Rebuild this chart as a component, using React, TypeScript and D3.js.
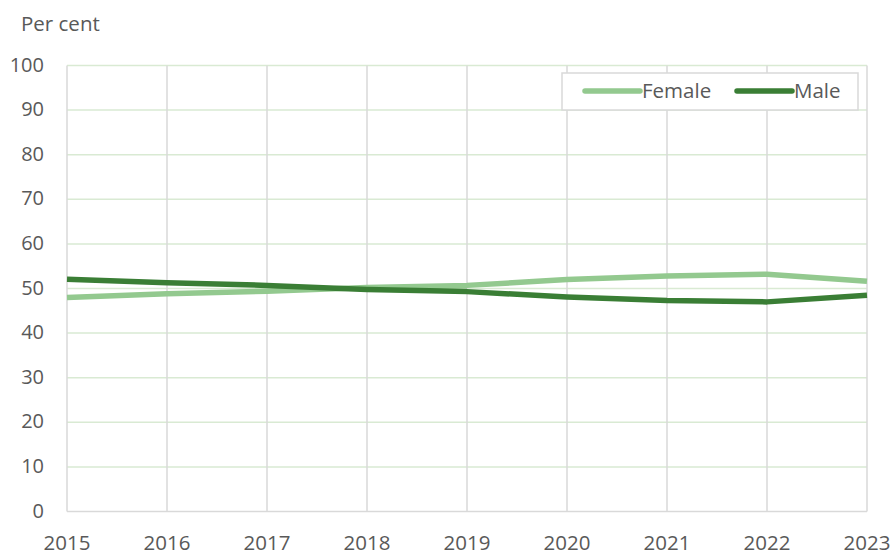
import { useEffect, useRef } from 'react';
import * as d3 from 'd3';

const years = [2015, 2016, 2017, 2018, 2019, 2020, 2021, 2022, 2023];
const female = [48.0, 48.8, 49.4, 50.2, 50.7, 52.0, 52.8, 53.2, 51.6];
const male = [52.1, 51.3, 50.7, 49.8, 49.3, 48.1, 47.3, 47.0, 48.5];
const yTicks = [0, 10, 20, 30, 40, 50, 60, 70, 80, 90, 100];

const SERIES = [
  { name: 'Female', color: '#93c98f', values: female },
  { name: 'Male', color: '#3a7e35', values: male },
];

export default function App() {
  const svgRef = useRef<SVGSVGElement>(null);

  useEffect(() => {
    if (!svgRef.current) return;
    const W = 892, H = 552;
    const M = { top: 65.5, right: 25, bottom: 40.5, left: 67 };
    const font = '"Open Sans", sans-serif';
    const textColor = '#595959';

    const svg = d3.select(svgRef.current).attr('width', W).attr('height', H);
    svg.selectAll('*').remove();

    const x = d3.scaleLinear().domain([2015, 2023]).range([M.left, W - M.right]);
    const y = d3.scaleLinear().domain([0, 100]).range([H - M.bottom, M.top]);

    // Horizontal grid (green tint)
    svg.append('g').selectAll('line').data(yTicks.filter(d => d > 0)).join('line')
      .attr('x1', M.left).attr('x2', W - M.right)
      .attr('y1', d => y(d)).attr('y2', d => y(d))
      .style('stroke', '#d9ead3').style('stroke-width', 1.5);

    // Vertical grid (grey)
    svg.append('g').selectAll('line').data(years).join('line')
      .attr('x1', d => x(d)).attr('x2', d => x(d))
      .attr('y1', M.top).attr('y2', H - M.bottom)
      .style('stroke', '#d9d9d9').style('stroke-width', 1.5);

    // Bottom axis line
    svg.append('line')
      .attr('x1', M.left).attr('x2', W - M.right)
      .attr('y1', y(0)).attr('y2', y(0))
      .style('stroke', '#d9d9d9').style('stroke-width', 1.5);

    // Y tick labels
    svg.append('g').selectAll('text').data(yTicks).join('text')
      .attr('x', 44).attr('y', d => y(d) + 6)
      .attr('text-anchor', 'end')
      .style('font-family', font).style('font-size', '20px').style('fill', textColor)
      .text(d => d);

    // X tick labels
    svg.append('g').selectAll('text').data(years).join('text')
      .attr('x', d => x(d)).attr('y', H - 2.5)
      .attr('text-anchor', 'middle')
      .style('font-family', font).style('font-size', '20.5px').style('fill', textColor)
      .text(d => d);

    // Unit label
    svg.append('text').attr('x', 21).attr('y', 31)
      .style('font-family', font).style('font-size', '20.5px').style('fill', textColor)
      .text('Per cent');

    // Lines
    const line = d3.line<number>()
      .x((_, i) => x(years[i]))
      .y(d => y(d));
    for (const s of SERIES) {
      svg.append('path').datum(s.values).attr('d', line)
        .style('fill', 'none').style('stroke', s.color)
        .style('stroke-width', 5.5).style('stroke-linejoin', 'round');
    }

    // Legend
    const lg = svg.append('g');
    lg.append('rect').attr('x', 562).attr('y', 73).attr('width', 296).attr('height', 37)
      .style('fill', '#fff').style('stroke', '#d9d9d9').style('stroke-width', 1.5);
    const legendX = [585, 737];
    SERIES.forEach((s, i) => {
      lg.append('line')
        .attr('x1', legendX[i]).attr('x2', legendX[i] + 55)
        .attr('y1', 91).attr('y2', 91)
        .style('stroke', s.color).style('stroke-width', 5.5).style('stroke-linecap', 'round');
      lg.append('text').attr('x', legendX[i] + 57).attr('y', 98)
        .style('font-family', font).style('font-size', '20.5px').style('fill', textColor)
        .text(s.name);
    });
  }, []);

  return (
    <svg ref={svgRef} style={{ position: 'absolute', left: 0, top: 0, background: '#fff' }} />
  );
}
